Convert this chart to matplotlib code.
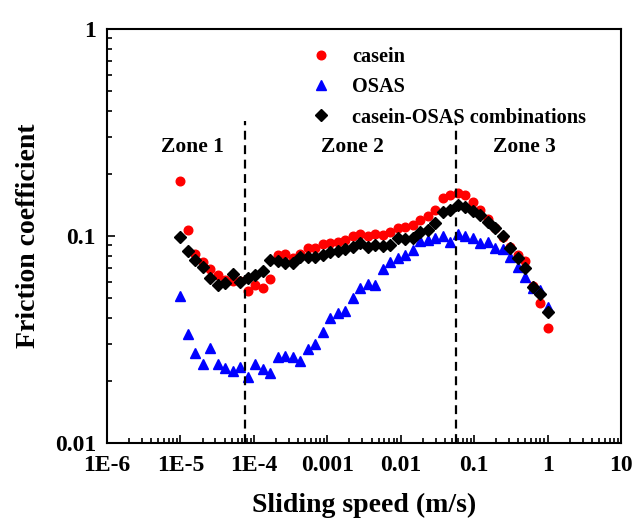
import numpy as np
import matplotlib
matplotlib.use("Agg")
import matplotlib.pyplot as plt

plt.rcParams['font.family'] = ['Liberation Serif', 'DejaVu Serif']
plt.rcParams['font.weight'] = 'bold'

# sliding speed (m/s), same speeds for all three samples
speed = [1.000e-5, 1.265e-5, 1.600e-5, 2.024e-5, 2.560e-5, 3.237e-5, 4.095e-5, 5.179e-5, 6.551e-5, 8.286e-5,
         1.048e-4, 1.326e-4, 1.677e-4, 2.121e-4, 2.683e-4, 3.393e-4, 4.292e-4, 5.429e-4, 6.866e-4, 8.685e-4,
         1.099e-3, 1.389e-3, 1.758e-3, 2.223e-3, 2.812e-3, 3.556e-3, 4.498e-3, 5.690e-3, 7.197e-3, 9.103e-3,
         1.151e-2, 1.456e-2, 1.842e-2, 2.330e-2, 2.947e-2, 3.728e-2, 4.715e-2, 5.964e-2, 7.543e-2, 9.541e-2,
         0.1207, 0.1526, 0.1931, 0.2442, 0.3089, 0.3907, 0.4942, 0.6251, 0.7906, 1.0]

casein = [0.185, 0.1065, 0.0816, 0.0749, 0.0690, 0.0648, 0.0613, 0.0606, 0.0606, 0.0542,
          0.0580, 0.0563, 0.0618, 0.0810, 0.0816, 0.0786, 0.0821, 0.0872, 0.0878, 0.0912,
          0.0928, 0.0939, 0.0956, 0.100, 0.1023, 0.100, 0.1023, 0.1011, 0.1049, 0.1090,
          0.1109, 0.1130, 0.1195, 0.1249, 0.1335, 0.1527, 0.1586, 0.1608, 0.1586, 0.1464,
          0.1335, 0.1208, 0.1093, 0.0994, 0.0885, 0.0810, 0.0760, 0.0574, 0.0473, 0.0361]

osas = [0.0513, 0.0335, 0.0273, 0.0240, 0.0287, 0.0242, 0.0230, 0.0223, 0.0234, 0.0208,
        0.0242, 0.0227, 0.0219, 0.0261, 0.0263, 0.0261, 0.0249, 0.0284, 0.0300, 0.0343,
        0.0403, 0.0423, 0.0436, 0.0500, 0.0563, 0.0584, 0.0580, 0.0690, 0.0751, 0.0780,
        0.0810, 0.0856, 0.0949, 0.0956, 0.0975, 0.100, 0.0940, 0.1028, 0.100, 0.0973,
        0.0922, 0.0939, 0.0872, 0.0863, 0.0789, 0.0706, 0.0636, 0.0563, 0.0548, 0.0456]

combo = [0.0992, 0.0849, 0.0766, 0.0706, 0.0625, 0.0580, 0.0595, 0.0655, 0.0601, 0.0625,
         0.0648, 0.0678, 0.0766, 0.0757, 0.0738, 0.0738, 0.0794, 0.0794, 0.0794, 0.0810,
         0.0840, 0.0849, 0.0863, 0.0882, 0.0928, 0.0888, 0.0905, 0.0895, 0.0905, 0.0975,
         0.0964, 0.0975, 0.1049, 0.1069, 0.1159, 0.1306, 0.1340, 0.1404, 0.1385, 0.1320,
         0.1263, 0.1172, 0.1090, 0.100, 0.0878, 0.0786, 0.0703, 0.0569, 0.0525, 0.0431]

# zone borders and labels
zone_borders = [7.5e-5, 0.057]
zone_names = ["Zone 1", "Zone 2", "Zone 3"]
zone_label_x = [1.45e-5, 2.2e-3, 0.49]

xtick_values = [1e-6, 1e-5, 1e-4, 1e-3, 1e-2, 0.1, 1, 10]
xtick_labels = ["1E-6", "1E-5", "1E-4", "0.001", "0.01", "0.1", "1", "10"]
ytick_values = [0.01, 0.1, 1]
ytick_labels = ["0.01", "0.1", "1"]


fig = plt.figure(figsize=(6.34, 5.2), dpi=100)
ax = fig.add_axes([0.1688, 0.1481, 0.8107, 0.7961])

ax.plot(speed, casein, 'o', color='red', markersize=6.2, label='casein')
ax.plot(speed, osas, '^', color='blue', markersize=6.7, label='OSAS')
ax.plot(speed, combo, 'D', color='black', markersize=5.7, label='casein-OSAS combinations')

for b in zone_borders:
    ax.plot([b, b], [0.01, 0.36], color='black', linestyle=(0, (4, 2.5)), linewidth=1.6)

for name, zx in zip(zone_names, zone_label_x):
    ax.text(zx, 0.27, name, ha='center', va='center', fontsize=15.5, fontweight='bold')

ax.set_xscale('log')
ax.set_yscale('log')
ax.set_xlim(1e-6, 10)
ax.set_ylim(0.01, 1)

ax.set_xticks(xtick_values)
ax.set_xticklabels(xtick_labels)
ax.set_yticks(ytick_values)
ax.set_yticklabels(ytick_labels)
ax.tick_params(which='both', direction='in', top=False, right=False, labelsize=17, width=1.2)
ax.tick_params(which='major', length=6)
ax.tick_params(which='minor', length=3.5)
ax.tick_params(axis='x', which='major', pad=9)
ax.tick_params(axis='y', which='major', pad=8)

for s in ax.spines.values():
    s.set_linewidth(1.5)

ax.set_xlabel('Sliding speed (m/s)', fontsize=20, fontweight='bold', labelpad=11.5)
ax.set_ylabel('Friction coefficient', fontsize=20, fontweight='bold', labelpad=10)

ax.legend(loc='upper left', bbox_to_anchor=(0.358, 1.0), frameon=False, fontsize=14.6,
          handletextpad=0.9, labelspacing=0.5, handlelength=1.2)

fig.savefig('out.png', dpi=100)
